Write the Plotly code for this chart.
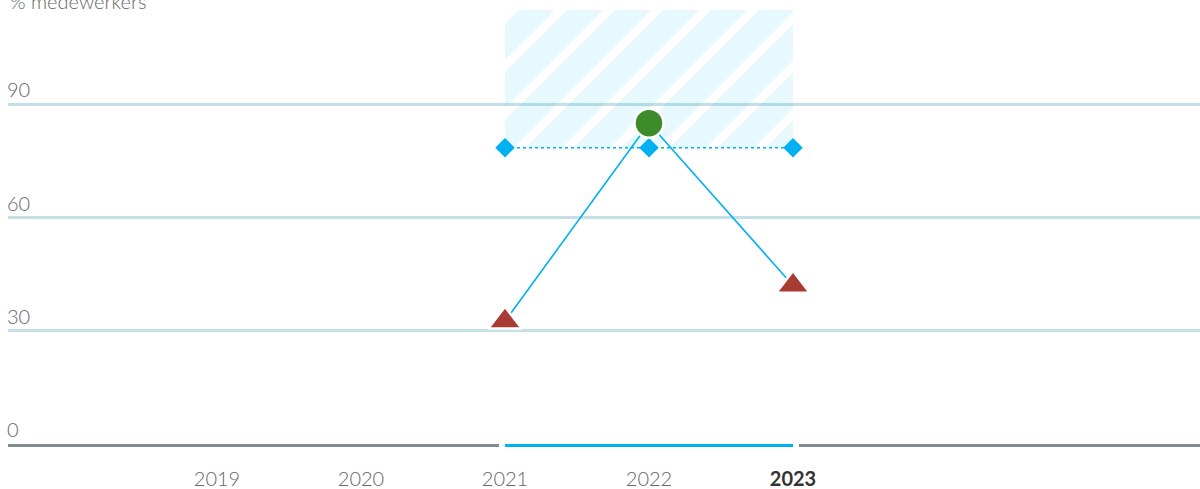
import plotly.graph_objects as go

years = ["2019", "2020", "2021", "2022", "2023"]
actual = [None, None, 32.5, 85, 42]
target = [None, None, 78.5, 78.5, 78.5]
y_ticks = [0, 30, 60, 90]
y_max = 115
title = "% medewerkers"
current_year = "2023"

BLUE = "#00b0f0"
RED = "#a83b32"
GREEN = "#3e8b2b"
FONT = "Source Sans Pro, Lato, Noto Sans, sans-serif"

xs = list(range(len(years)))
tgt_idx = [i for i, v in enumerate(target) if v is not None]
act_idx = [i for i, v in enumerate(actual) if v is not None]

fig = go.Figure()

# target band (hatched) from target to top
t0, t1 = tgt_idx[0], tgt_idx[-1]
fig.add_trace(go.Bar(
    x=[(t0 + t1) / 2], y=[y_max - target[t0]], base=[target[t0]],
    width=[t1 - t0],
    marker=dict(color="rgba(0,0,0,0)", line=dict(width=0),
                pattern=dict(shape="/", fgcolor="rgba(0,176,240,0.19)",
                             bgcolor="rgba(0,0,0,0)", size=34, solidity=0.75)),
    hoverinfo="skip", showlegend=False,
))

# target line
fig.add_trace(go.Scatter(
    x=[xs[i] for i in tgt_idx], y=[target[i] for i in tgt_idx],
    mode="lines+markers",
    line=dict(color=BLUE, width=1.6, dash="dot"),
    marker=dict(symbol="diamond", size=15, color=BLUE, opacity=1),
    showlegend=False, hoverinfo="skip",
))

# actual line
symbols = ["circle" if actual[i] >= target[i] else "triangle-up" for i in act_idx]
colors = [GREEN if actual[i] >= target[i] else RED for i in act_idx]
fig.add_trace(go.Scatter(
    x=[xs[i] for i in act_idx], y=[actual[i] for i in act_idx],
    mode="lines+markers",
    line=dict(color=BLUE, width=1.6),
    marker=dict(symbol=symbols, size=29, color=colors, opacity=1,
                line=dict(color="white", width=2.5)),
    showlegend=False, hoverinfo="skip",
))

# highlight on x-axis
gap = 6 / 144
fig.add_shape(type="line", xref="x", yref="paper", yanchor=0, ysizemode="pixel",
              x0=t0 - gap, x1=t1 + gap, y0=-1.5, y1=-1.5,
              line=dict(color="white", width=3), layer="above")
fig.add_shape(type="line", xref="x", yref="paper", yanchor=0, ysizemode="pixel",
              x0=t0, x1=t1, y0=-1.5, y1=-1.5,
              line=dict(color=BLUE, width=3), layer="above")

ticktext = [f"<span style='color:#333333'><b>{y}</b></span>" if y == current_year else y
            for y in years]

fig.update_layout(
    width=1200, height=489,
    margin=dict(l=8, r=0, t=10, b=45),
    plot_bgcolor="white", paper_bgcolor="white",
    font=dict(family=FONT, size=20, color="#666666", weight=300),
    bargap=0,
    xaxis=dict(
        range=[-209 / 144, -209 / 144 + 1192 / 144],
        tickvals=xs, ticktext=ticktext,
        showgrid=False, zeroline=False,
        showline=True, linecolor="#7f8e93", linewidth=3,
        layer="below traces",
        ticks="", ticklabelstandoff=15,
        tickfont=dict(size=20, color="#666666"),
    ),
    yaxis=dict(
        range=[0, y_max], tickvals=y_ticks,
        showgrid=True, gridcolor="#c4dfe8", gridwidth=3,
        zeroline=False, showline=False, ticks="",
        ticklabelposition="inside top", ticklabelstandoff=-4,
        tickfont=dict(size=20, color="#666666"),
    ),
    annotations=[dict(
        text=title, xref="paper", yref="paper", x=0, y=1,
        xanchor="left", yanchor="bottom", yshift=-5, showarrow=False,
        font=dict(size=20, color="#666666"),
    )],
)

fig.write_html(
    "out.html",
    config={"displayModeBar": False},
    post_script="document.body.style.margin='0';document.body.style.overflow='hidden';",
)
